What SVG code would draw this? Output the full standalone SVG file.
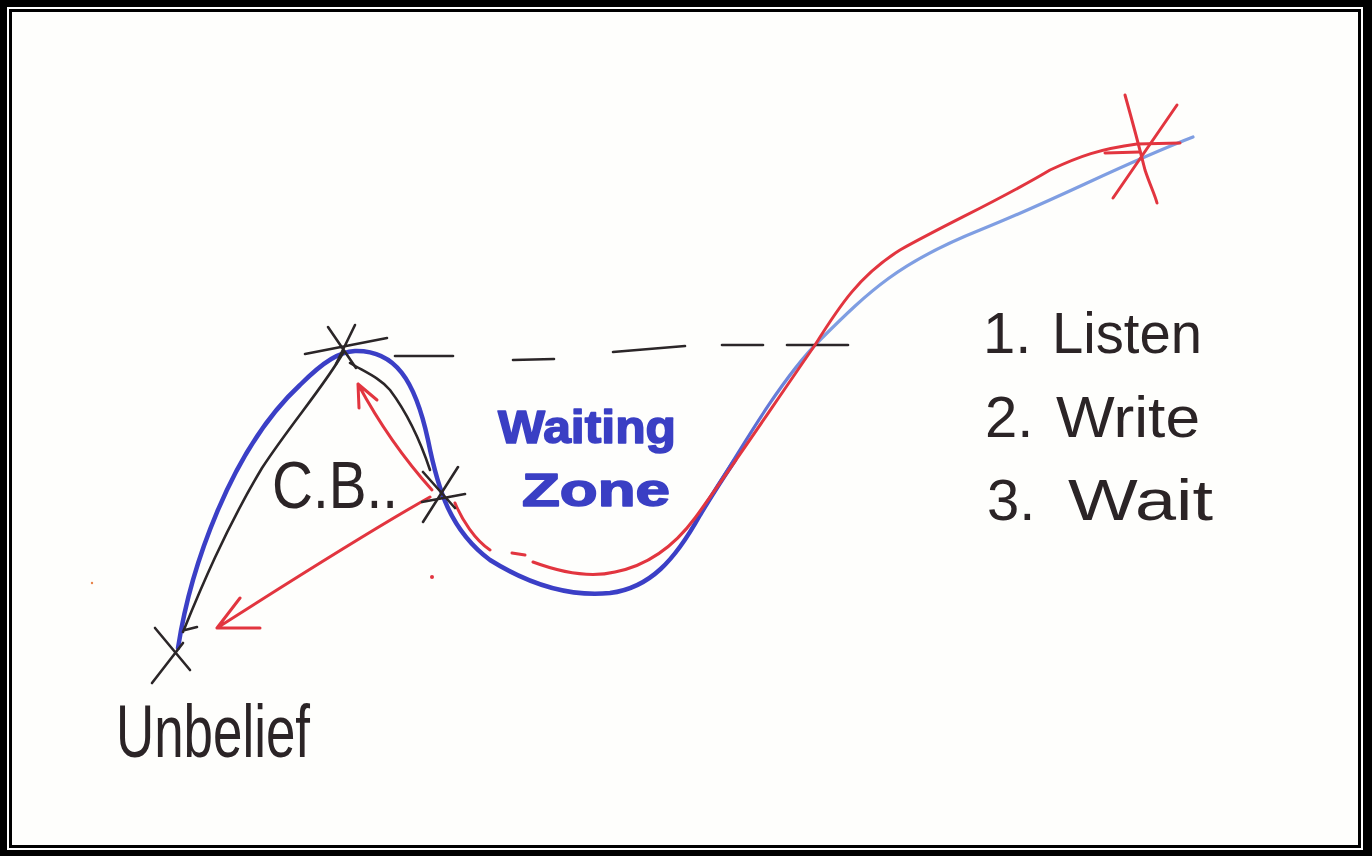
<svg xmlns="http://www.w3.org/2000/svg" width="1372" height="856" viewBox="0 0 1372 856">
<defs>
<linearGradient id="bluefade" gradientUnits="userSpaceOnUse" x1="690" y1="0" x2="820" y2="0">
<stop offset="0" stop-color="#3b3fc6"/>
<stop offset="1" stop-color="#7f9ee2"/>
</linearGradient>
<style>
.ink{fill:none;stroke:#2b2628;stroke-width:2.6;stroke-linecap:round;stroke-linejoin:round}
.red{fill:none;stroke:#e2353f;stroke-width:3;stroke-linecap:round;stroke-linejoin:round}
.blue{fill:none;stroke:#3b3fc6;stroke-width:4.5;stroke-linecap:round;stroke-linejoin:round}
.hand{font-family:"Liberation Sans","DejaVu Sans",sans-serif;fill:#2b2426}
.bluetxt{font-family:"Liberation Sans","DejaVu Sans",sans-serif;font-weight:bold;fill:#3a3fc4;stroke:#3a3fc4;stroke-width:1.6;stroke-linejoin:round}
</style>
</defs>
<!-- frame -->
<rect x="0" y="0" width="1372" height="856" fill="#000"/>
<rect x="7" y="7" width="1356" height="843" fill="#fff"/>
<rect x="10.5" y="10.5" width="1349" height="836" fill="#fefefc" stroke="#000" stroke-width="3"/>

<g id="connectors">
<!-- blue main curve -->
<path class="blue" d="M178,648 C190,570 230,450 300,385 C325,360 340,352 355,351 C395,350 415,380 428,440 C438,490 450,530 490,560 C530,585 570,597 610,593 C650,588 675,560 700,515 C715,490 725,475 735,460"/>
<path fill="none" stroke="url(#bluefade)" stroke-width="3.2" stroke-linecap="round" d="M700,515 C740,450 780,380 820,340 C870,290 900,262 980,230 C1060,198 1120,165 1193,137"/>
<!-- black lines -->
<path class="ink" d="M183,632 C200,590 225,530 262,468 C290,425 325,385 343,353"/>
<path class="ink" d="M350,363 C365,372 380,378 390,390 C405,410 420,440 430,470"/>
<!-- dashed level line -->
<g class="ink">
<path d="M395,356 L453,356"/>
<path d="M513,360 L554,359"/>
<path d="M613,352 L685,346"/>
<path d="M722,345 L763,345"/>
<path d="M787,345 L848,345"/>
</g>
<!-- red path -->
<path class="red" d="M455,503 C462,520 475,540 490,550"/>
<path class="red" d="M512,553 L525,555"/>
<path class="red" d="M533,562 C560,572 590,578 615,572 C650,565 675,545 695,518 C730,470 770,410 815,345 C840,305 860,275 900,250 C950,222 1000,200 1050,170 C1080,156 1100,149 1137,144 L1180,143"/>
<path class="red" stroke-width="4" d="M1105,153 L1140,152"/>
<!-- red arrows -->
<path class="red" d="M430,497 C380,525 300,575 217,628 M217,628 L260,628 M217,628 L240,598"/>
<path class="red" d="M432,490 C405,460 380,425 358,384 M358,384 L359,408 M358,384 L377,400"/>
<circle cx="432" cy="577" r="2" fill="#e2353f"/>
<circle cx="92" cy="583" r="1.2" fill="#e8844a"/>
</g>

<g id="node-unbelief">
<path class="ink" d="M155,628 L190,670 M152,683 L183,643 M185,630 L197,627"/>
<text class="hand" x="116" y="757" font-size="74" textLength="194" lengthAdjust="spacingAndGlyphs">Unbelief</text>
</g>

<g id="node-peak">
<path class="ink" d="M305,354 L387,338 M328,327 L356,368 M355,325 L336,364"/>
</g>

<g id="node-cb">
<path class="ink" d="M423,472 L455,508 M423,522 L458,467 M422,502 L465,494"/>
<text class="hand" x="272" y="508" font-size="66" textLength="126" lengthAdjust="spacingAndGlyphs">C.B..</text>
</g>

<g id="node-waiting">
<text class="bluetxt" x="498" y="443" font-size="47" textLength="178" lengthAdjust="spacingAndGlyphs">Waiting</text>
<text class="bluetxt" x="522" y="506" font-size="47" textLength="148" lengthAdjust="spacingAndGlyphs">Zone</text>
</g>

<g id="node-goal">
<path class="red" stroke-width="3.5" d="M1125,95 C1132,120 1140,150 1145,170 C1150,185 1155,195 1157,203 M1177,105 L1113,198"/>
</g>

<g id="node-list">
<text class="hand" y="353" font-size="58"><tspan x="983">1. </tspan><tspan x="1052" textLength="150" lengthAdjust="spacingAndGlyphs">Listen</tspan></text>
<text class="hand" y="437" font-size="58"><tspan x="985">2. </tspan><tspan x="1056" textLength="144" lengthAdjust="spacingAndGlyphs">Write</tspan></text>
<text class="hand" y="520" font-size="58"><tspan x="987">3. </tspan><tspan x="1068" textLength="145" lengthAdjust="spacingAndGlyphs">Wait</tspan></text>
</g>
</svg>
